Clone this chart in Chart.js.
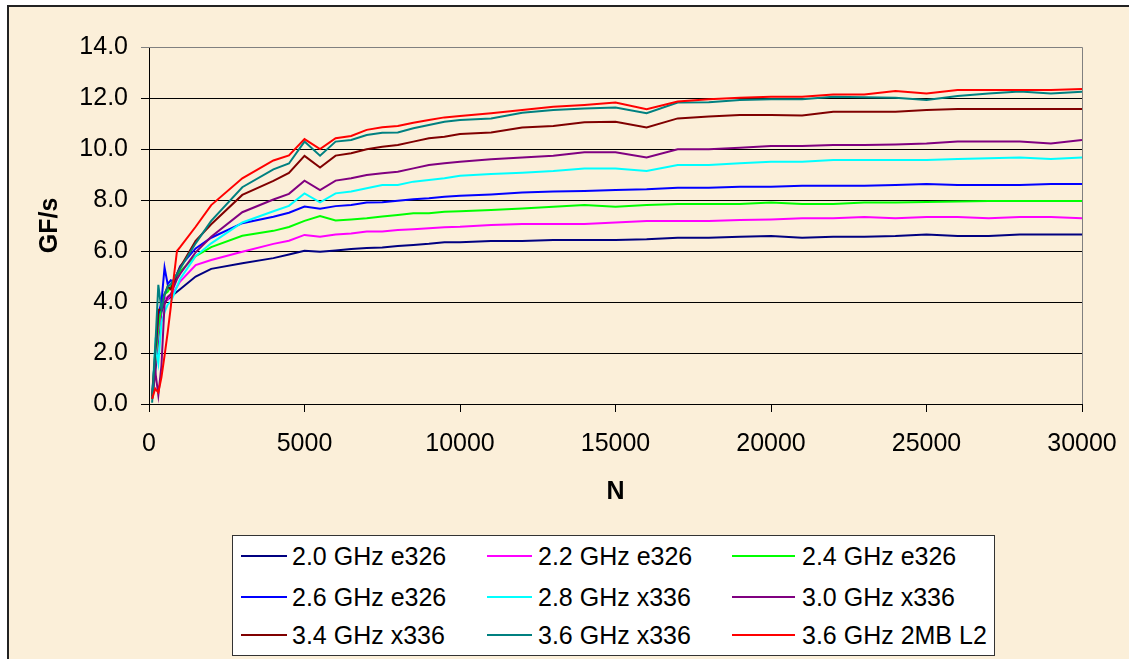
<!DOCTYPE html>
<html><head><meta charset="utf-8">
<script src="https://cdn.jsdelivr.net/npm/chart.js@4.4.1/dist/chart.umd.min.js"></script>
<style>
html,body{margin:0;width:1129px;height:659px;overflow:hidden;background:#fff;font-family:"Liberation Sans",Arial,sans-serif}
#frame{position:absolute;left:7px;top:5px;width:1200px;height:720px;border-left:2px solid #222;border-top:2px solid #222;background:#fbefd9}
#c{position:absolute;left:0;top:0}
#legend{position:absolute;left:232px;top:535px;width:763px;height:121px;box-sizing:border-box;border:1px solid #333;background:#fff}
#legend .ln{position:absolute;height:2px}
#legend .tx{position:absolute;font-size:25px;line-height:28px;color:#000;white-space:nowrap}
</style></head>
<body>
<div id="frame"></div>
<canvas id="c" width="1129" height="659"></canvas>
<div id="legend"></div>
<script>
// ---- data ----
const N = [100,200,300,400,500,600,700,800,900,1000,1500,2000,3000,4000,
  4500,5000,5500,6000,6500,7000,7500,8000,8500,9000,9500,10000,
  11000,12000,13000,14000,15000,16000,17000,18000,19000,20000,
  21000,22000,23000,24000,25000,26000,27000,28000,29000,30000];
const labels = ["2.0 GHz e326","2.2 GHz e326","2.4 GHz e326","2.6 GHz e326","2.8 GHz x336","3.0 GHz x336","3.4 GHz x336","3.6 GHz x336","3.6 GHz 2MB L2"];
const colors = ["#000080","#ff00ff","#00ff00","#0000ff","#00ffff","#800080","#800000","#008080","#ff0000"];

const ghz20e = [0.2,1.2,2.6,3.6,4.0,4.1,4.2,4.3,4.4,4.5, 5.0,5.3,5.52,5.72,
  5.86,6.01,5.97,6.02,6.08,6.12,6.14,6.2,6.24,6.28,6.34,6.34,
  6.39,6.39,6.43,6.43,6.43,6.46,6.52,6.52,6.56,6.59,
  6.52,6.56,6.56,6.59,6.65,6.59,6.59,6.65,6.65,6.65];
const ghz22e = [0.3,1.5,2.8,3.7,4.2,4.1,4.3,4.4,4.6,4.8, 5.45,5.65,5.97,6.28,
  6.4,6.63,6.56,6.65,6.69,6.76,6.76,6.82,6.85,6.89,6.93,6.95,
  7.02,7.06,7.06,7.06,7.12,7.18,7.18,7.18,7.22,7.24,
  7.28,7.28,7.33,7.28,7.33,7.33,7.28,7.33,7.33,7.28];
const ghz24e = [0.3,1.6,3.0,3.9,4.3,4.4,4.6,4.8,5.0,5.2, 5.8,6.15,6.6,6.79,
  6.94,7.18,7.37,7.2,7.24,7.28,7.35,7.41,7.48,7.48,7.54,7.56,
  7.61,7.67,7.74,7.8,7.74,7.8,7.84,7.84,7.84,7.9,
  7.84,7.84,7.9,7.9,7.92,7.94,7.96,7.96,7.96,7.96];
const ghz26e = [0.4,1.9,3.5,4.0,5.35,4.7,4.85,4.8,5.1,5.4, 6.1,6.52,7.09,7.34,
  7.5,7.74,7.66,7.76,7.8,7.9,7.91,7.97,8.03,8.07,8.13,8.17,
  8.22,8.29,8.33,8.35,8.39,8.42,8.48,8.48,8.52,8.52,
  8.56,8.56,8.56,8.59,8.63,8.59,8.59,8.59,8.63,8.63];
const ghz28x = [0.3,2.3,1.6,3.2,3.6,3.9,4.0,4.3,4.6,4.9, 5.8,6.3,7.12,7.56,
  7.77,8.26,7.91,8.26,8.33,8.46,8.59,8.59,8.72,8.78,8.85,8.95,
  9.02,9.07,9.14,9.24,9.24,9.14,9.37,9.37,9.44,9.5,
  9.5,9.57,9.57,9.57,9.57,9.61,9.64,9.67,9.61,9.67];
const ghz30x = [0.2,1.3,0.35,1.5,3.9,4.2,4.3,4.6,4.9,5.1, 5.95,6.56,7.52,8.02,
  8.24,8.76,8.39,8.76,8.85,8.98,9.05,9.11,9.24,9.37,9.44,9.5,
  9.6,9.67,9.74,9.87,9.87,9.67,9.99,9.99,10.05,10.12,
  10.12,10.16,10.16,10.18,10.22,10.29,10.29,10.29,10.22,10.35];
const ghz34x = [0.3,2.0,3.7,3.7,4.3,4.6,4.5,4.8,5.1,5.35, 6.4,7.05,8.2,8.75,
  9.06,9.73,9.27,9.74,9.83,9.99,10.09,10.16,10.29,10.42,10.48,10.59,
  10.65,10.84,10.9,11.05,11.07,10.84,11.2,11.27,11.33,11.33,
  11.31,11.46,11.46,11.46,11.53,11.57,11.57,11.57,11.57,11.57];
const ghz36x = [0.05,2.2,4.67,3.7,4.3,4.6,4.7,4.9,5.1,5.3, 6.3,7.18,8.5,9.2,
  9.43,10.29,9.74,10.29,10.35,10.55,10.64,10.65,10.81,10.94,11.07,11.14,
  11.2,11.42,11.53,11.59,11.63,11.4,11.82,11.83,11.92,11.95,
  11.95,12.05,12.03,12.01,11.92,12.08,12.18,12.25,12.18,12.25];
const ghz36L2 = [0.2,0.6,0.45,1.05,1.9,2.8,3.8,5.0,6.0,6.15, 6.95,7.8,8.85,9.55,
  9.75,10.39,10.0,10.42,10.51,10.75,10.85,10.9,11.03,11.14,11.24,11.29,
  11.4,11.53,11.66,11.73,11.82,11.56,11.86,11.95,12.01,12.05,
  12.05,12.14,12.14,12.27,12.18,12.31,12.31,12.31,12.31,12.35];
const series = [ghz20e,ghz22e,ghz24e,ghz26e,ghz28x,ghz30x,ghz34x,ghz36x,ghz36L2];

// ---- chart ----
const FONT = "'Liberation Sans', Arial, sans-serif";
const plotBorder = {id:"plotBorder", beforeDatasetsDraw(c){
  const {ctx, chartArea:a} = c;
  ctx.save(); ctx.strokeStyle = "#808080"; ctx.lineWidth = 1;
  ctx.beginPath(); ctx.moveTo(a.left, a.top+0.5); ctx.lineTo(a.right+0.5, a.top+0.5); ctx.lineTo(a.right+0.5, a.bottom); ctx.stroke();
  ctx.restore();
}};

new Chart(document.getElementById("c"), {
  type:"scatter",
  data:{datasets: series.map((s,i) => ({
    label:labels[i], data:s.map((v,j) => ({x:N[j], y:v})),
    showLine:true, borderColor:colors[i], backgroundColor:colors[i], borderWidth:2,
    pointRadius:0, pointHoverRadius:0, tension:0, order:series.length-i
  }))},
  options:{
    responsive:false, animation:false, devicePixelRatio:1,
    layout:{padding:{left:20, top:47, right:47, bottom:145}},
    plugins:{legend:{display:false}, tooltip:{enabled:false}},
    scales:{
      x:{type:"linear", min:0, max:30000,
        afterFit:s => { s.height = 110; s.paddingLeft = 0; s.paddingRight = 0; },
        ticks:{stepSize:5000, color:"#000", padding:17, maxRotation:0, font:{family:FONT, size:25}, callback:v => String(v)},
        grid:{drawOnChartArea:false, drawTicks:true, tickLength:8, color:"#000"},
        border:{color:"#000", width:1},
        title:{display:true, text:"N", color:"#000", font:{family:FONT, size:25, weight:"bold"}, padding:{top:0, bottom:7}}},
      y:{min:0, max:14,
        afterFit:s => { s.width = 129; },
        ticks:{stepSize:2, color:"#000", padding:13, font:{family:FONT, size:25}, callback:v => v.toFixed(1)},
        grid:{color:c => c.tick && c.tick.value === 14 ? "#808080" : "#000", tickLength:8, drawTicks:true},
        border:{color:"#000", width:1},
        title:{display:true, text:"GF/s", color:"#000", font:{family:FONT, size:25, weight:"bold"}, padding:{top:15, bottom:0}}}
    }
  },
  plugins:[plotBorder]
});

// ---- legend ----
const lg = document.getElementById("legend");
const colX = [[241,287,292],[487,532,538],[732,795,802]];
const rowY = [556,597,635];
labels.forEach((t,i) => {
  const [x0,x1,tx] = colX[i%3], y = rowY[Math.floor(i/3)];
  lg.insertAdjacentHTML("beforeend",
    `<div class="ln" style="left:${x0-233}px;top:${y-537}px;width:${x1-x0}px;background-color:${colors[i]}"></div>` +
    `<div class="tx" style="left:${tx-233}px;top:${y-536-14}px">${t}</div>`);
});
</script>
</body></html>
